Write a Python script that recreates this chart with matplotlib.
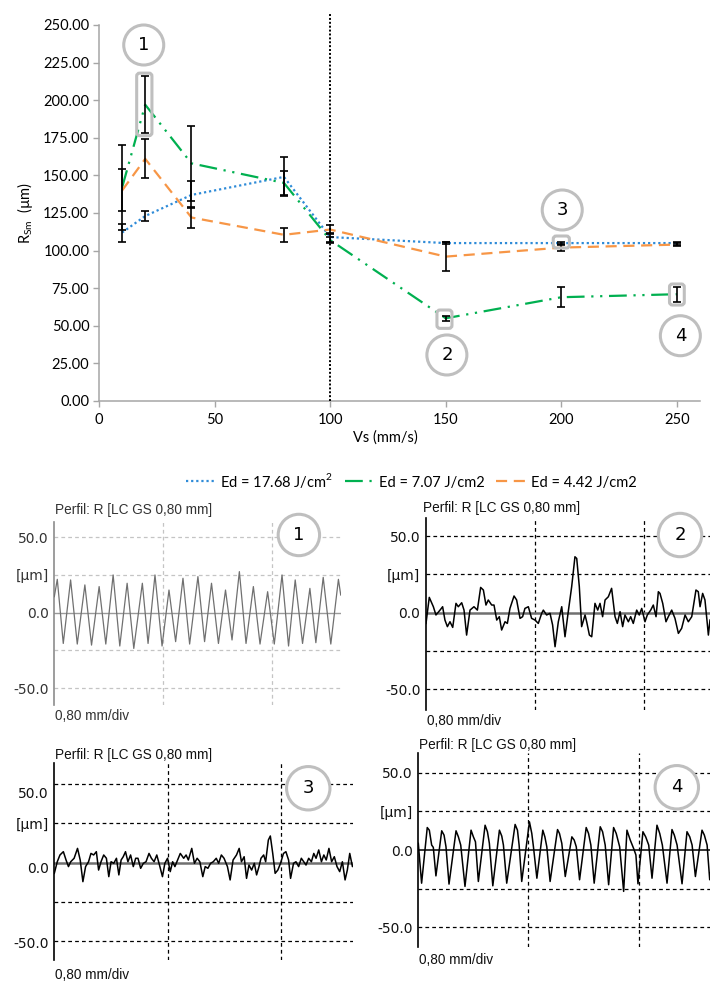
import matplotlib
matplotlib.use('Agg')
import matplotlib.pyplot as plt
from matplotlib.patches import Circle, FancyBboxPatch
from matplotlib.transforms import ScaledTranslation

# ---------------- data: top chart ----------------
vs = [10, 20, 40, 80, 100, 150, 200, 250]
rsm_1768 = [112, 123, 137, 149, 109, 105, 105, 105]
err_1768 = [6, 3, 9, 13, 3, 0.5, 1, 1]
rsm_707 = [142, 197, 158, 145, 107, 55, 69, 71]
err_707 = [28, 19, 25, 8, 2, 1.5, 6.5, 5]
rsm_442 = [140, 161, 122, 110.5, 114, 96, 102, 104]
err_442 = [14, 13, 7, 4.5, 3, 9.5, 2.5, 1]
labels = ['Ed = 17.68 J/cm$^\\mathregular{2}$', 'Ed = 7.07 J/cm2', 'Ed = 4.42 J/cm2']
xticks = [0, 50, 100, 150, 200, 250]
yticks = [0, 25, 50, 75, 100, 125, 150, 175, 200, 225, 250]

# ---------------- data: roughness profiles (x in mm, z in um) ----------------
p1_x = [0.000, 0.022, 0.066, 0.120, 0.169, 0.225, 0.274, 0.330, 0.379, 0.433, 0.482,
        0.536, 0.585, 0.648, 0.690, 0.741, 0.793, 0.844, 0.893, 0.947, 0.996, 1.057,
        1.106, 1.157, 1.208, 1.260, 1.308, 1.362, 1.411, 1.465, 1.514, 1.570, 1.619,
        1.676, 1.724, 1.773, 1.827, 1.881, 1.925, 1.979, 2.035, 2.091, 2.108]
p1_z = [10.6, 22.1, -20.4, 21.7, -20.8, 18.4, -21.5, 17.3, -20.8, 25.0, -22.1,
        19.5, -23.7, 19.5, -20.4, 25.0, -22.1, 15.0, -19.2, 22.8, -20.8, 23.9,
        -19.2, 19.5, -20.4, 15.0, -18.1, 27.2, -20.4, 17.3, -20.8, 13.9, -20.8,
        25.0, -22.1, 21.7, -20.4, 16.1, -19.9, 23.4, -20.8, 22.1, 11.7]

p2_pts = [(0.000, -7.0), (0.024, 10.0), (0.054, 3.9), (0.073, -1.5), (0.103, 1.7), (0.122, 3.9),
          (0.139, -4.8), (0.157, -9.1), (0.176, -5.9), (0.196, -9.6), (0.220, 6.1), (0.237, 3.9),
          (0.262, 6.5), (0.279, 1.7), (0.298, -14.6), (0.323, 1.7), (0.352, 3.9), (0.377, 1.7),
          (0.401, 16.5), (0.421, 14.8), (0.440, 5.0), (0.457, 8.3), (0.482, 5.0), (0.499, 5.0),
          (0.519, -4.8), (0.538, -2.6), (0.555, -11.3), (0.580, -5.9), (0.597, -7.0), (0.616, 2.8),
          (0.646, 10.9), (0.665, 8.3), (0.690, -3.7), (0.709, -2.6), (0.726, 2.8), (0.751, 3.9),
          (0.775, -3.7), (0.800, -4.8), (0.824, -7.0), (0.849, -0.4), (0.861, 1.7), (0.885, -1.5),
          (0.910, -0.4), (0.929, -8.0), (0.947, -22.2), (0.971, -5.9), (0.996, 3.9), (1.020, -15.7),
          (1.044, 0.7), (1.069, 17.0), (1.093, 36.5), (1.106, 35.4), (1.125, 17.0), (1.142, -9.1),
          (1.167, -1.5), (1.179, -5.9), (1.199, -14.6), (1.216, -15.7), (1.240, 6.1), (1.260, 1.7),
          (1.277, 6.1), (1.296, -2.6), (1.314, 8.3), (1.338, 10.4), (1.362, 15.9), (1.387, -2.6),
          (1.404, -7.0), (1.424, 0.7), (1.443, -9.1), (1.460, -1.5), (1.485, -5.9), (1.502, -2.6),
          (1.521, -7.0), (1.546, 1.7), (1.565, -1.5), (1.583, 2.8), (1.607, -5.9), (1.624, -1.5),
          (1.649, 1.7), (1.668, 5.0), (1.688, -2.6), (1.705, 13.7), (1.717, 12.6), (1.737, 6.1),
          (1.761, -5.9), (1.778, -2.6), (1.803, 1.7), (1.827, -3.7), (1.852, -13.5), (1.876, -10.2),
          (1.901, -1.5), (1.925, -5.9), (1.950, -2.6), (1.981, 14.8), (1.998, 13.7), (2.011, 3.9),
          (2.030, 12.6), (2.047, 8.3), (2.064, -7.0), (2.072, -14.6), (2.084, -4.8)]

p3_pts = [(0.000, -6.8), (0.021, 0.6), (0.040, 4.9), (0.064, 7.0), (0.083, 1.7), (0.100, -2.5),
          (0.116, 0.6), (0.140, 2.8), (0.164, 9.1), (0.183, 1.7), (0.202, -12.1), (0.221, -2.5),
          (0.242, 0.6), (0.259, 5.9), (0.278, 4.9), (0.297, 7.0), (0.313, -4.7), (0.330, 0.6),
          (0.349, 4.9), (0.368, 2.8), (0.385, -8.9), (0.401, 0.6), (0.420, -0.4), (0.439, 2.8),
          (0.456, -7.8), (0.472, 1.7), (0.487, 3.8), (0.503, 7.0), (0.520, 0.6), (0.539, 4.9),
          (0.558, -2.5), (0.575, 2.8), (0.591, 2.8), (0.610, -3.6), (0.629, -0.4), (0.648, 0.6),
          (0.669, 5.9), (0.686, 2.8), (0.705, 0.6), (0.724, 4.9), (0.743, -1.5), (0.764, -8.9),
          (0.781, -0.4), (0.800, 2.8), (0.819, -5.7), (0.836, 0.6), (0.852, -2.5), (0.871, 1.7),
          (0.890, 5.9), (0.914, 2.8), (0.931, 4.9), (0.947, 1.7), (0.971, 9.1), (0.990, -0.4),
          (1.009, 2.8), (1.028, 0.6), (1.049, -8.9), (1.066, -2.5), (1.085, -3.6), (1.104, -0.4),
          (1.123, 0.6), (1.144, 2.8), (1.161, -0.4), (1.180, 4.9), (1.199, 2.8), (1.223, -2.5),
          (1.242, -11.0), (1.263, 1.7), (1.287, 4.9), (1.306, 9.1), (1.322, 0.6), (1.341, 3.8),
          (1.358, -10.0), (1.375, -1.5), (1.394, -4.7), (1.413, -0.4), (1.429, -7.8), (1.446, -2.5),
          (1.460, 2.8), (1.479, 4.9), (1.493, 0.6), (1.512, 14.4), (1.526, 17.0), (1.543, 5.9),
          (1.560, -6.8), (1.579, -4.7), (1.598, -0.4), (1.619, 5.9), (1.636, 7.0), (1.655, 1.7),
          (1.669, -10.0), (1.690, -0.4), (1.707, 0.6), (1.726, -2.5), (1.745, 2.8), (1.762, 0.6),
          (1.778, -1.5), (1.797, 2.8), (1.816, 0.6), (1.833, 5.9), (1.849, 2.8), (1.868, 8.1),
          (1.887, 0.6), (1.904, 4.9), (1.921, 1.7), (1.940, 9.1), (1.959, 0.6), (1.978, 3.8),
          (1.997, -2.5), (2.016, -5.7), (2.035, 0.6), (2.054, -11.0), (2.070, -4.7), (2.087, 5.9),
          (2.106, -2.5), (2.120, -0.4), (2.141, 8.1)]

p4_pts = [(0.000, 4.3), (0.024, -21.4), (0.065, 14.5), (0.080, 12.8), (0.097, 3.2), (0.109, 1.7),
          (0.128, -16.7), (0.170, 12.4), (0.187, 9.6), (0.201, 2.1), (0.223, -22.0), (0.274, 12.4),
          (0.291, 8.5), (0.308, 3.2), (0.339, -23.5), (0.383, 12.8), (0.400, 8.5), (0.415, 5.3),
          (0.436, -20.3), (0.485, 16.0), (0.502, 11.8), (0.516, 4.3), (0.541, -23.1), (0.589, 12.8),
          (0.606, 9.0), (0.618, 3.2), (0.642, -21.4), (0.703, 16.5), (0.720, 12.8), (0.732, 3.2),
          (0.751, -20.3), (0.807, 18.2), (0.824, 10.7), (0.836, 2.1), (0.861, -18.2), (0.904, 12.8),
          (0.919, 8.5), (0.933, 2.1), (0.957, -20.3), (1.011, 13.2), (1.025, 10.7), (1.042, 4.3),
          (1.067, -17.1), (1.115, 8.5), (1.132, 6.4), (1.147, 2.1), (1.171, -19.2), (1.219, 14.5),
          (1.236, 10.7), (1.253, 3.2), (1.277, -21.4), (1.321, 15.0), (1.338, 11.8), (1.357, 3.2),
          (1.382, -22.4), (1.418, 14.5), (1.437, 10.7), (1.462, 2.1), (1.491, -26.7), (1.515, 12.8),
          (1.539, 6.4), (1.563, 1.1), (1.580, -3.2), (1.595, -21.8), (1.631, 11.8), (1.651, 8.5),
          (1.673, 3.2), (1.697, -18.2), (1.733, 16.0), (1.753, 10.7), (1.772, 3.2), (1.806, -21.4),
          (1.842, 13.2), (1.859, 9.6), (1.879, 3.2), (1.915, -21.8), (1.951, 11.8), (1.971, 8.5),
          (1.988, 3.2), (2.012, -17.1), (2.060, 12.8), (2.077, 9.6), (2.097, 3.2), (2.116, -19.2),
          (2.121, -15.0)]

profile_grid_z = [50, 25, -25, -50]
profile_grid_x = [0.8, 1.6]
profile_tick_text = ['50.0', '[µm]', '0.0', '-50.0']

# ---------------- figure ----------------
W, H = 710, 981
fig = plt.figure(figsize=(W / 100, H / 100), dpi=100)
fig.patch.set_facecolor('white')


def rect(l, t, r, b):
    return [l / W, 1 - b / H, (r - l) / W, (b - t) / H]


def fxy(x, y):
    return x / W, 1 - y / H


BLUE = '#2E8BD8'
GREEN = '#00B050'
ORANGE = '#F79646'
AXC = '#A6A6A6'
TOPFONT = 'Lato'

ax = fig.add_axes(rect(99, 25, 700, 401))
l1, = ax.plot(vs, rsm_1768, color=BLUE, lw=1.6, linestyle=(0, (1, 1.3)), zorder=3)
l2, = ax.plot(vs, rsm_707, color=GREEN, lw=1.6, linestyle=(0, (8, 3, 1, 3, 1, 3)), zorder=3)
l3, = ax.plot(vs, rsm_442, color=ORANGE, lw=1.6, linestyle=(0, (5, 3)), zorder=3)
for vals, errs in [(rsm_1768, err_1768), (rsm_707, err_707), (rsm_442, err_442)]:
    ax.errorbar(vs, vals, yerr=errs, fmt='none', ecolor='black', elinewidth=1.2,
                capsize=3, capthick=1.2, zorder=5)

ax.plot([100, 100], [0, 258], color='black', lw=1.4, linestyle=(0, (1, 1)), clip_on=False, zorder=4)

ax.set_xlim(0, 260)
ax.set_ylim(0, 250)
ax.set_xticks(xticks)
ax.set_yticks(yticks)
ax.set_yticklabels(['%.2f' % v for v in yticks])
for s in ['top', 'right']:
    ax.spines[s].set_visible(False)
for s in ['left', 'bottom']:
    ax.spines[s].set_color(AXC)
    ax.spines[s].set_linewidth(1.1)
ax.tick_params(axis='both', color=AXC, length=4, width=1, labelsize=10.5, direction='out')
ax.tick_params(axis='y', pad=3)
ax.tick_params(axis='x', pad=5)
for t in ax.get_xticklabels() + ax.get_yticklabels():
    t.set_fontfamily(TOPFONT)
ax.set_ylabel('R$_\\mathregular{Sm}$  (µm)', fontsize=10.5, family=TOPFONT, labelpad=6)
fig.text(*fxy(385, 438), 'Vs (mm/s)', fontsize=10.5, family=TOPFONT, ha='center', va='center')

leg = fig.legend([l1, l2, l3], labels, loc='center', bbox_to_anchor=fxy(411, 480), ncol=3,
                 frameon=False, handlelength=2.0, columnspacing=0.8, handletextpad=0.35,
                 prop={'family': TOPFONT, 'size': 10.5})

# highlight boxes
box_specs = [(16.3, 176.4, 6.6, 41.6), (146.2, 48.3, 6.5, 12.2), (196.5, 101.7, 7.0, 8.0),
             (246.8, 63.8, 6.4, 14.0)]
for (bx, by, bw, bh) in box_specs:
    p = FancyBboxPatch((bx, by), bw, bh, boxstyle='round,pad=0,rounding_size=1.3',
                       mutation_aspect=2.31 / 1.504, facecolor='none', edgecolor='#BFBFBF',
                       lw=2.2, zorder=6, clip_on=False)
    ax.add_patch(p)


def add_circle(a, x, y, r_px, label, fs=13):
    trans = fig.dpi_scale_trans + ScaledTranslation(x, y, a.transData)
    c = Circle((0, 0), r_px / 100, transform=trans, facecolor='white', edgecolor='#BFBFBF',
               lw=2.2, zorder=7, clip_on=False)
    a.add_artist(c)
    a.text(x, y, label, ha='center', va='center', fontsize=fs, family='DejaVu Sans', zorder=8,
           clip_on=False)


circle_specs = [(19.35, 236.7, '1'), (150.5, 30.6, '2'), (200.4, 127.0, '3'), (251.5, 43.4, '4')]
for cx, cy, lab in circle_specs:
    add_circle(ax, cx, cy, 20, lab)


# ---------------- profile panels ----------------
def panel(r_px, xmax, ylim, xs, zs, num, circ, title_xy, div_xy, faded=False, zero_col='#707070',
          zero_lw=1.8, tick_pos=(50, 25, 0, -50)):
    a = fig.add_axes(rect(*r_px))
    a.set_xlim(0, xmax)
    a.set_ylim(*ylim)
    if faded:
        gcol, lcol, scol, tcol, glw, llw = '#C4C4C4', '#707070', '#8C8C8C', '#333333', 0.9, 0.9
    else:
        gcol, lcol, scol, tcol, glw, llw = 'black', 'black', 'black', '#111111', 0.9, 1.1
    for gz in profile_grid_z:
        a.axhline(gz, color=gcol, lw=glw, linestyle=(0, (3, 2.5)), zorder=1)
    for gx in profile_grid_x:
        a.axvline(gx, color=gcol, lw=glw, linestyle=(0, (3, 2.5)), zorder=1)
    a.axhline(0, color=zero_col, lw=zero_lw, zorder=2)
    a.plot(xs, zs, color=lcol, lw=llw, zorder=3, solid_joinstyle='round')
    for s in ['top', 'right', 'bottom']:
        a.spines[s].set_visible(False)
    a.spines['left'].set_color(scol)
    a.spines['left'].set_linewidth(1.2)
    a.set_xticks([])
    a.set_yticks(list(tick_pos))
    a.set_yticklabels(profile_tick_text)
    a.tick_params(axis='y', length=0, pad=4, labelsize=10, labelcolor=tcol)
    for t in a.get_yticklabels():
        t.set_fontfamily('DejaVu Sans')
    a.patch.set_alpha(0)
    fig.text(*fxy(*title_xy), 'Perfil: R [LC GS 0,80 mm]', family='Liberation Sans', fontsize=9.8,
             ha='left', va='center', color=tcol)
    fig.text(*fxy(*div_xy), '0,80 mm/div', family='Liberation Sans', fontsize=9.8,
             ha='left', va='center', color=tcol)
    add_circle(a, circ[0], circ[1], circ[2], num)
    return a


p2_x = [p[0] for p in p2_pts]
p2_z = [p[1] for p in p2_pts]
p3_x = [p[0] for p in p3_pts]
p3_z = [p[1] for p in p3_pts]
p4_x = [p[0] for p in p4_pts]
p4_z = [p[1] for p in p4_pts]

panel((54.3, 521.7, 341, 705), 2.11, (-61.2, 60.3), p1_x, p1_z, '1', (1.80, 51.5, 20.7),
      (55, 510), (55, 716), faded=True, zero_col='#9A9A9A', zero_lw=1.0)
panel((426, 518, 710, 710), 2.084, (-63.5, 61.8), p2_x, p2_z, '2', (1.864, 50.7, 21.7),
      (423, 508), (427, 721), zero_col='#707070', zero_lw=1.8)
panel((54.3, 763.3, 353, 960), 2.11, (-62, 63.3), p3_x, p3_z, '3', (1.794, 47.4, 21.7),
      (55, 755), (55, 975), zero_col='#707070', zero_lw=1.8, tick_pos=(45, 25, -3, -51))
panel((418.3, 752.7, 710, 946.7), 2.118, (-62.4, 62.8), p4_x, p4_z, '4', (1.877, 40.5, 21.7),
      (419, 745), (419, 960), zero_col='black', zero_lw=1.1)

fig.savefig('out.png', dpi=100, facecolor='white')
